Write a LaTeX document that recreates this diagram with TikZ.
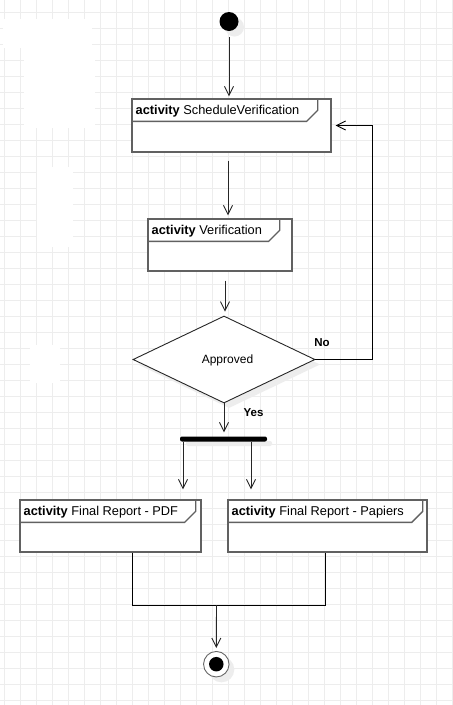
\documentclass[tikz,border=0pt]{standalone}
\usepackage{fontspec}
\setmainfont{Liberation Sans}
\usetikzlibrary{arrows.meta,shapes.geometric,calc}
\newcommand\acthead[2]{%
  \draw[boxline] ($(#1.north west)+(0,23)$) -- ($(#1.north east)+(-#2-11,23)$) -- ($(#1.north east)+(-#2,12)$) -- ($(#1.north east)+(-#2,0)$);}
\begin{document}
\begin{tikzpicture}[x=1pt,y=-1pt,
  gridline/.style={draw=black!7,line width=1pt},
  boxline/.style={draw=black!62,line width=1.4pt},
  actbox/.style={boxline,fill=white,rectangle,inner sep=0pt},
  acttxt/.style={anchor=base west,inner sep=0pt,font=\fontsize{12.8}{14}\selectfont},
  arr/.style={draw=black!85,line width=0.9pt,-{Straight Barb[length=9pt,width=9pt,line width=0.9pt]}},
  conn/.style={draw=black,line width=0.9pt},
  shadowfill/.style={fill=black!7,draw=none},
  lbl/.style={font=\fontsize{11.5}{13}\selectfont\bfseries,inner sep=0pt}]
\useasboundingbox (0,0) rectangle (453,705);
\fill[white] (0,0) rectangle (453,705);
\foreach \x in {4,20,...,452} \draw[gridline] (\x,0) -- (\x,705);
\foreach \y in {12,28,...,704} \draw[gridline] (0,\y) -- (453,\y);
% white patches over the grid
\fill[white] (3,19) rectangle (92,48);
\fill[white] (24,48) rectangle (95,128);
\fill[white] (37,167) rectangle (73,247);
\fill[white] (30,345) rectangle (60,383);
% shadows
\fill[shadowfill] (234.5,27) circle (9.5);
\node[diamond,shadowfill,minimum width=182pt,minimum height=87pt,inner sep=0pt] at (229,364.5) {};
\fill[shadowfill,rounded corners=2pt] (186,441) rectangle (272,446);
\fill[shadowfill] (221.5,669.5) circle (12.8);
% nodes
\node[circle,fill=black,minimum size=19pt,inner sep=0pt] (init) at (229,21.5) {};
\node[actbox,minimum width=199pt,minimum height=53pt] (sched) at (231.5,125.5) {};
\acthead{sched}{14}
\node[acttxt] (schedlbl) at (135.5,114) {\textbf{activity} ScheduleVerification};
\node[actbox,minimum width=144pt,minimum height=52pt] (verif) at (220,245) {};
\acthead{verif}{13}
\node[acttxt] (veriflbl) at (151.5,234) {\textbf{activity} Verification};
\node[diamond,draw=black!85,line width=0.9pt,fill=white,minimum width=182pt,minimum height=87pt,inner sep=0pt] (dec) at (224,359.5) {};
\node[font=\fontsize{12}{14}\selectfont,inner sep=0pt] (declbl) at (227.5,360) {Approved};
\node[fill=black,rounded corners=2pt,minimum width=87pt,minimum height=5pt,inner sep=0pt] (fork) at (223.5,439) {};
\node[actbox,minimum width=181pt,minimum height=52pt] (pdf) at (110.5,526) {};
\acthead{pdf}{6}
\node[acttxt] (pdflbl) at (23.5,515) {\textbf{activity} Final Report - PDF};
\node[actbox,minimum width=199pt,minimum height=52pt] (pap) at (327.5,526) {};
\acthead{pap}{5}
\node[acttxt] (paplbl) at (231.5,515) {\textbf{activity} Final Report - Papiers};
\node[circle,draw=black!60,line width=0.9pt,fill=white,minimum size=25.5pt,inner sep=0pt] (final) at (216.3,664.2) {};
\node[circle,fill=black,minimum size=14.5pt,inner sep=0pt] (finalin) at (final) {};
\node[lbl] (no) at (322,343) {No};
\node[lbl] (yes) at (253.5,413) {Yes};
% connectors
\coordinate (c1) at (228,0);
\coordinate (c2) at (225,0);
\coordinate (c3) at (183,0);
\coordinate (c4) at (251,0);
\coordinate (c5) at (372,0);
\coordinate (jl) at (132,605);
\coordinate (jr) at (325,605);
\coordinate (j) at (216.5,605);
\draw[arr,shorten <=6pt,shorten >=2pt] (init.south) -- (init.south |- sched.north);
\draw[arr,shorten <=8pt,shorten >=3pt] (sched.south -| c1) -- (c1 |- verif.north);
\draw[arr,shorten <=9pt,shorten >=4pt] (verif.south -| c2) -- (c2 |- dec.north);
\draw[arr,shorten >=4pt] (dec.south) -- (dec.south |- fork.north);
\draw[arr,shorten >=10pt] (fork.south -| c3) -- (c3 |- pdf.north);
\draw[arr,shorten >=10pt] (fork.south -| c4) -- (c4 |- pap.north);
\draw[arr,draw=black,shorten >=4pt] (dec.east) -- (dec.east -| c5) -- (c5 |- sched.east) -- (sched.east);
\draw[conn] (pdf.south -| jl) -- (jl) -- (jr) -- (pap.south -| jr);
\draw[arr,shorten >=3pt] (j) -- (final.north);
\end{tikzpicture}
\end{document}
